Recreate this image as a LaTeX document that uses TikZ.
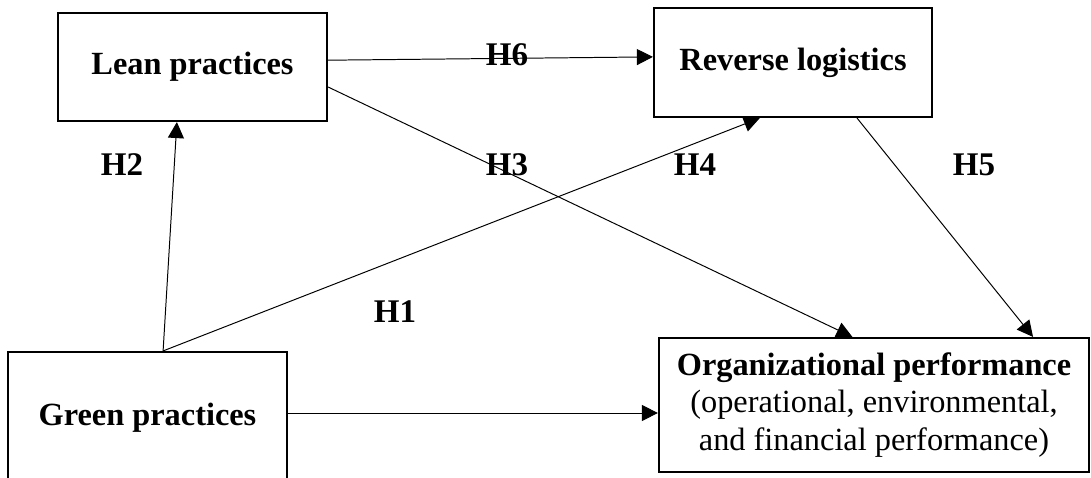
\documentclass[tikz,border=0pt]{standalone}
\usepackage{fontspec}
\setmainfont{Liberation Serif}
\usetikzlibrary{arrows.meta}
\begin{document}
\begin{tikzpicture}[x=0.025cm,y=-0.025cm,
  box/.style={draw,line width=1.5pt,align=center,inner sep=0pt,font=\fontsize{23}{26.5}\selectfont\bfseries},
  link/.style={line width=0.7pt,-{Triangle[length=0.4cm,width=0.4cm]}},
  hyp/.style={inner sep=0pt,font=\fontsize{23.5}{26}\selectfont\bfseries}]
\useasboundingbox (0,0) rectangle (1091,478);
\clip (0,0) rectangle (1091,478);
\node[box,minimum width=6.725cm,minimum height=2.7cm] (lean) at (192.5,67) {Lean practices};
\node[box,minimum width=6.95cm,minimum height=2.725cm] (rev) at (793,62.5) {Reverse logistics};
\node[box,minimum width=6.975cm,minimum height=3.3cm] (green) at (147.5,418) {Green practices};
\node[box,minimum width=10.75cm,minimum height=3.35cm] (org) at (874,405)
	{Organizational performance\\\textmd{(operational, environmental,}\\\textmd{and financial performance)}};
\coordinate (gtop) at ([xshift=0.39cm]green.north);
\coordinate (gside) at ([yshift=0.125cm]green.east);
\draw[link] ([yshift=0.17cm]lean.east) -- ([yshift=0.14cm]rev.west);
\draw[link] ([yshift=-0.5cm]lean.east) -- ([xshift=-0.54cm]org.north);
\draw[link] (gtop) -- ([xshift=-0.39cm]lean.south);
\draw[link] (gtop) -- ([xshift=-0.83cm]rev.south);
\draw[link] ([xshift=1.6cm]rev.south) -- ([xshift=3.975cm]org.north);
\draw[link] (gside) -- (gside -| org.west);
\node[hyp] (h1) at (395,312) {H1};
\node[hyp] (h2) at (122,165) {H2};
\node[hyp] (h3) at (507,165) {H3};
\node[hyp] (h4) at (695,165) {H4};
\node[hyp] (h5) at (974,165) {H5};
\node[hyp] (h6) at (507,55) {H6};
\end{tikzpicture}
\end{document}
